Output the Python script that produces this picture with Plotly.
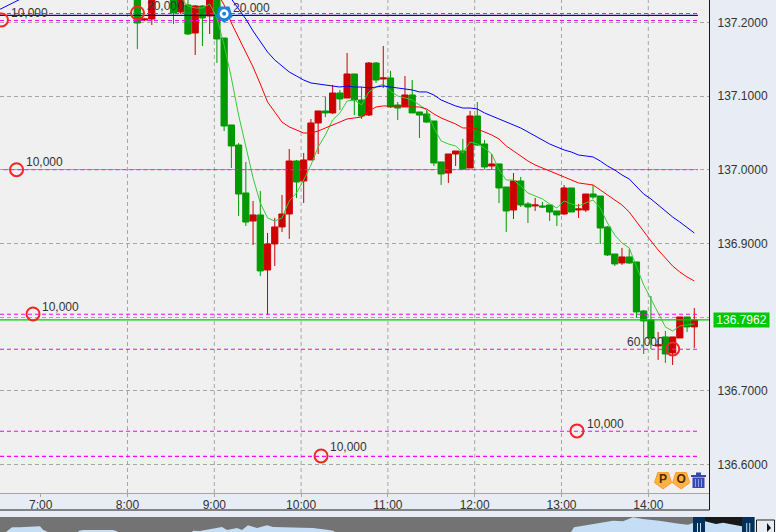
import plotly.graph_objects as go

W, H = 776, 532
PLOT_R, PLOT_B, FRAME_B = 709.5, 493, 510

# ---- time axis (minutes of the day) ----
hour_ticks = [420, 480, 540, 600, 660, 720, 780, 840]
hour_labels = ["7:00", "8:00", "9:00", "10:00", "11:00", "12:00", "13:00", "14:00"]
grid_hours = [480, 540, 600, 660, 720, 780, 840]
x_range = [391.87, 882.3]
y_range = [136.5612, 137.2303]
price_ticks = [136.6, 136.7, 136.8, 136.9, 137.0, 137.1, 137.2]
price_labels = ["136.6000", "136.7000", "", "136.9000", "137.0000", "137.1000", "137.2000"]

candle_start, candle_step = 486.8, 5

# ---- candles (5-minute) ----
opens = [137.2412, 137.2032, 137.2045, 137.2710, 137.2439, 137.2574, 137.2140, 137.2235, 137.1855, 137.2222,
         137.2086, 137.2371, 137.1787, 137.0607, 137.0335, 136.9684, 136.9304, 136.9386, 136.8639, 136.8992,
         136.9223, 136.9399, 137.0118, 136.9847, 137.0132, 137.0634, 137.0797, 137.0770, 137.1041, 137.0973,
         137.1299, 137.0946, 137.0742, 137.1448, 137.1231, 137.1245, 137.0878, 137.0851, 137.1014, 137.0783,
         137.0756, 137.0661, 137.0105, 136.9955, 137.0213, 137.0254, 137.0023, 137.0729, 137.0349, 137.0050,
         137.0078, 136.9765, 136.9453, 136.9847, 136.9535, 136.9508, 136.9508, 136.9521, 136.9440, 136.9399,
         136.9752, 136.9453, 136.9453, 136.9670, 136.9643, 136.9223, 136.8856, 136.8734, 136.8816, 136.8748,
         136.8083, 136.7961, 136.7608, 136.7730, 136.7513, 136.7716, 136.8001, 136.7866]
highs = [137.2412, 137.2059, 137.2384, 137.2778, 137.2778, 137.2574, 137.2507, 137.2303, 137.2235, 137.2235,
         137.2371, 137.2371, 137.1787, 137.0607, 137.0362, 137.0105, 136.9575, 136.9711, 136.9141, 136.9345,
         136.9657, 137.0281, 137.0132, 137.0227, 137.0688, 137.0797, 137.0987, 137.1150, 137.1082, 137.1584,
         137.1299, 137.1122, 137.1462, 137.1462, 137.1679, 137.1340, 137.0919, 137.1272, 137.1217, 137.0783,
         137.0810, 137.0661, 137.0105, 137.0213, 137.0254, 137.0417, 137.0797, 137.0919, 137.0403, 137.0213,
         137.0078, 136.9765, 136.9955, 136.9901, 136.9562, 136.9616, 136.9562, 136.9521, 136.9440, 136.9793,
         136.9752, 136.9535, 136.9670, 136.9793, 136.9643, 136.9236, 136.8856, 136.8938, 136.8924, 136.8748,
         136.8096, 136.8286, 136.7798, 136.7811, 136.7730, 136.8001, 136.8001, 136.8123]
lows = [137.1638, 137.2018, 137.1964, 137.2507, 137.2371, 137.1977, 137.2113, 137.1828, 137.1557, 137.1679,
        137.1842, 137.1448, 137.0525, 137.0023, 136.9372, 136.9236, 136.8978, 136.8558, 136.8029, 136.8693,
        136.9155, 136.9060, 136.9616, 136.9548, 137.0132, 137.0213, 137.0715, 137.0756, 137.0810, 137.0973,
        137.0742, 137.0688, 137.0729, 137.1177, 137.1109, 137.0837, 137.0675, 137.0851, 137.0770, 137.0430,
        137.0634, 137.0050, 136.9793, 136.9820, 137.0050, 136.9996, 137.0023, 137.0322, 137.0010, 136.9996,
        136.9548, 136.9155, 136.9331, 136.9494, 136.9277, 136.9440, 136.9480, 136.9304, 136.9236, 136.9386,
        136.9426, 136.9345, 136.9426, 136.9603, 136.8992, 136.8829, 136.8693, 136.8707, 136.8721, 136.7988,
        136.7499, 136.7567, 136.7418, 136.7377, 136.7350, 136.7716, 136.7798, 136.7581]
closes = [137.1991, 137.2045, 137.2384, 137.2574, 137.2710, 137.2127, 137.2507, 137.1842, 137.2222, 137.2059,
          137.2371, 137.1774, 137.0593, 137.0322, 136.9670, 136.9290, 136.9386, 136.8626, 136.8992, 136.9223,
          136.9399, 137.0118, 136.9833, 137.0132, 137.0634, 137.0797, 137.0770, 137.1041, 137.0960, 137.1299,
          137.0946, 137.0729, 137.1448, 137.1217, 137.1245, 137.0851, 137.0837, 137.1014, 137.0770, 137.0742,
          137.0647, 137.0091, 136.9942, 137.0213, 137.0254, 137.0010, 137.0729, 137.0335, 137.0037, 137.0078,
          136.9752, 136.9440, 136.9847, 136.9521, 136.9494, 136.9521, 136.9494, 136.9426, 136.9386, 136.9752,
          136.9426, 136.9467, 136.9670, 136.9630, 136.9209, 136.8843, 136.8721, 136.8816, 136.8734, 136.8069,
          136.7947, 136.7716, 136.7621, 136.7499, 136.7730, 136.8001, 136.7866, 136.7961]

# ---- moving averages (values per candle, starting at the given candle number) ----
ma_green_first = 6
ma_green = [137.2330, 137.2222, 137.2194, 137.2194, 137.2249, 137.2059, 137.1692, 137.1245, 137.0742, 137.0295,
            136.9888, 136.9548, 136.9345, 136.9304, 136.9345, 136.9575, 136.9684, 136.9860, 137.0064, 137.0308,
            137.0471, 137.0675, 137.0770, 137.0932, 137.0946, 137.0878, 137.1055, 137.1122, 137.1163, 137.1068,
            137.1000, 137.0973, 137.0946, 137.0878, 137.0810, 137.0566, 137.0390, 137.0349, 137.0322, 137.0227,
            137.0376, 137.0349, 137.0295, 137.0213, 136.9996, 136.9860, 136.9860, 136.9779, 136.9684, 136.9643,
            136.9603, 136.9535, 136.9480, 136.9575, 136.9535, 136.9508, 136.9548, 136.9589, 136.9480, 136.9277,
            136.9114, 136.9005, 136.8938, 136.8693, 136.8436, 136.8246, 136.8056, 136.7866, 136.7811, 136.7879,
            136.7893, 136.7906]
ma_red_first = 11
ma_red = [137.2412, 137.2235, 137.1991, 137.1787, 137.1584, 137.1394, 137.1163, 137.0919, 137.0783, 137.0647,
          137.0580, 137.0539, 137.0498, 137.0498, 137.0525, 137.0566, 137.0607, 137.0647, 137.0688, 137.0702,
          137.0715, 137.0797, 137.0851, 137.0865, 137.0865, 137.0865, 137.0865, 137.0851, 137.0851, 137.0824,
          137.0756, 137.0702, 137.0661, 137.0620, 137.0566, 137.0566, 137.0552, 137.0512, 137.0471, 137.0417,
          137.0322, 137.0254, 137.0186, 137.0118, 137.0064, 137.0023, 136.9983, 136.9942, 136.9901, 136.9860,
          136.9820, 136.9806, 136.9793, 136.9725, 136.9657, 136.9589, 136.9521, 136.9426, 136.9290, 136.9155,
          136.9033, 136.8911, 136.8802, 136.8693, 136.8612, 136.8544, 136.8490]
ma_blue_first = 12
ma_blue = [137.2412, 137.2317, 137.2181, 137.2045, 137.1882, 137.1733, 137.1597, 137.1489, 137.1407, 137.1326,
           137.1272, 137.1217, 137.1177, 137.1163, 137.1150, 137.1136, 137.1122, 137.1136, 137.1122, 137.1122,
           137.1109, 137.1122, 137.1136, 137.1122, 137.1109, 137.1095, 137.1082, 137.1055, 137.1055, 137.1014,
           137.0946, 137.0905, 137.0865, 137.0837, 137.0837, 137.0824, 137.0770, 137.0729, 137.0688, 137.0647,
           137.0607, 137.0566, 137.0512, 137.0458, 137.0403, 137.0349, 137.0308, 137.0268, 137.0240, 137.0199,
           137.0186, 137.0173, 137.0118, 137.0050, 136.9996, 136.9928, 136.9874, 136.9779, 136.9670, 136.9603,
           136.9521, 136.9440, 136.9358, 136.9290, 136.9209, 136.9141]
ma_blue_early_t = [391.9, 396.0, 400.2, 404.3, 409.0]
ma_blue_early = [137.2177, 137.2215, 137.2255, 137.2296, 137.2344]

# ---- horizontal levels ----
levels_magenta = [137.2120, 137.2025, 136.8038, 136.7563, 136.6450, 136.6110]
level_on_grid = 137.0000
level_on_grid_start = 394.3
level_blue = 137.2093
level_end = 874.3
last_price = 136.7962
last_price_text = "136.7962"

# ---- order markers and size labels ----
circle_t = [392.9, 403.3, 414.7, 486.9, 613.8, 790.7, 856.9]
circle_p = [137.2032, 137.0000, 136.8042, 137.2127, 136.6115, 136.6455, 136.7567]
label_t = [399.5, 493.5, 552.9, 409.8, 420.9, 620.0, 797.6, 825.3]
label_p = [137.2127, 137.2222, 137.2194, 137.0105, 136.8137, 136.6240, 136.6549, 136.7662]
label_text = ["10,000", "20,000", "20,000", "10,000", "10,000", "10,000", "10,000", "60,000"]
pin_t, pin_p = 546.8, 137.2115
badge_t = [850.2, 862.7]
badge_p = [136.5790, 136.5790]
badge_text = ["P", "O"]

# ---- navigator strip ----
nav_x = [6, 7, 12, 20, 33, 40, 43, 47, 48, 78, 79, 83, 100, 113, 117, 118, 192, 193, 200, 213, 222, 227, 237, 242,
         248, 257, 267, 273, 287, 300, 313, 327, 333, 335, 341, 343, 345, 361, 363, 365, 570, 571, 574, 586, 599,
         613, 623, 633, 643, 659, 679, 688, 693, 705, 716, 723, 742]
nav_h = [0, 0.7, 4.7, 4.7, 5.3, 5.7, 2.3, 0.7, 0, 0, 1.3, 2, 1.7, 2, 0.7, 0, 0, 1.3, 1, 3.3, 5, 2, 4, 2,
         6.7, 4, 6.7, 5, 4.7, 3.7, 4, 2.3, 1.3, 0, 0, 0.7, 0, 0, 0.7, 0, 0, 0, 4.7, 6.7, 8.7,
         11.3, 10.7, 14.7, 13, 11.3, 8.3, 7.3, 9, 10.7, 8, 9.3, 5.7]

FONT = "Liberation Sans"
TEXT = "#333333"
GRID = "#a6a6a6"
DASH = "4px,3px"


def px(x):
    return x / W


def py(y):
    return 1 - y / H


def rect(x0, y0, x1, y1, fill, layer="below", line=None):
    return dict(type="rect", xref="paper", yref="paper", x0=px(x0), x1=px(x1), y0=py(y1), y1=py(y0),
                fillcolor=fill, line=dict(width=1 if line else 0, color=line or fill), layer=layer)


def seg(x0, y0, x1, y1, color, width=1, layer="above"):
    return dict(type="line", xref="paper", yref="paper", x0=px(x0), x1=px(x1), y0=py(y1), y1=py(y0),
                line=dict(color=color, width=width), layer=layer)


times = [candle_start + candle_step * i for i in range(len(opens))]

fig = go.Figure()
fig.add_trace(go.Candlestick(
    x=times, open=opens, high=highs, low=lows, close=closes, xaxis="x", yaxis="y",
    increasing=dict(line=dict(color="#cc0000", width=1), fillcolor="#cc0000"),
    decreasing=dict(line=dict(color="#009900", width=1), fillcolor="#009900"),
    showlegend=False, hoverinfo="skip"))

for lv in levels_magenta:
    fig.add_trace(go.Scatter(x=[x_range[0], level_end], y=[lv, lv], mode="lines",
                             line=dict(color="#ff00ff", width=1.2, dash=DASH), hoverinfo="skip"))
fig.add_trace(go.Scatter(x=[level_on_grid_start, level_end], y=[level_on_grid, level_on_grid], mode="lines",
                         line=dict(color="#ff00ff", width=1, dash=DASH), hoverinfo="skip"))
fig.add_trace(go.Scatter(x=[x_range[0], level_end], y=[level_blue, level_blue], mode="lines",
                         line=dict(color="#0000cc", width=1.2), hoverinfo="skip"))
fig.add_trace(go.Scatter(x=[x_range[0], x_range[1]], y=[last_price, last_price], mode="lines",
                         line=dict(color="#00cc00", width=1.3), hoverinfo="skip"))

fig.add_trace(go.Scatter(x=times[ma_green_first:], y=ma_green, mode="lines",
                         line=dict(color="#33cc33", width=1), hoverinfo="skip"))
fig.add_trace(go.Scatter(x=times[ma_red_first:], y=ma_red, mode="lines",
                         line=dict(color="#ff0000", width=1), hoverinfo="skip"))
fig.add_trace(go.Scatter(x=times[ma_blue_first:], y=ma_blue, mode="lines",
                         line=dict(color="#0000ff", width=1), hoverinfo="skip"))
fig.add_trace(go.Scatter(x=ma_blue_early_t, y=ma_blue_early, mode="lines",
                         line=dict(color="#0000ff", width=1), hoverinfo="skip"))

fig.add_trace(go.Scatter(x=circle_t, y=circle_p, mode="markers", cliponaxis=True, hoverinfo="skip",
                         marker=dict(symbol="circle-open", size=13, color="#f52525", line=dict(width=2, color="#f52525"))))

# pin
fig.add_trace(go.Scatter(x=[pin_t], y=[pin_p], mode="markers", hoverinfo="skip", cliponaxis=False,
                         marker=dict(symbol="pentagon", angle=180, size=18, color="#1c84d8", line=dict(width=0))))
fig.add_trace(go.Scatter(x=[pin_t], y=[pin_p], mode="markers", hoverinfo="skip",
                         marker=dict(symbol="circle", size=9, color="#ffffff", line=dict(width=0))))
fig.add_trace(go.Scatter(x=[pin_t], y=[pin_p], mode="markers", hoverinfo="skip",
                         marker=dict(symbol="circle", size=4, color="#1c84d8", line=dict(width=0))))

# P and O badges
fig.add_trace(go.Scatter(x=badge_t, y=badge_p, mode="markers+text", text=badge_text,
                         textposition="middle center", hoverinfo="skip",
                         textfont=dict(family=FONT, size=12, color="#4d2a00", weight="bold"),
                         marker=dict(symbol="pentagon", angle=180, size=18, color="#ffb347",
                                     line=dict(width=1, color="#ff9a2e"))))

# navigator
fig.add_trace(go.Scatter(x=nav_x, y=nav_h, mode="lines", fill="tozeroy", fillcolor="#c6def5",
                         line=dict(width=0, color="#c6def5"), xaxis="x2", yaxis="y2", hoverinfo="skip"))

shapes = [
    rect(0, 0, PLOT_R, PLOT_B, "#f0f0f0"),
    rect(0, 517, 754.5, 532, "#737373"),
    rect(705, 517, 742, 532, "#181818"),
]
for h in grid_hours:
    shapes.append(dict(type="line", xref="x", yref="y domain", x0=h, x1=h, y0=0, y1=1,
                       line=dict(color=GRID, width=1, dash=DASH), layer="below"))
# frame
shapes += [
    seg(PLOT_R, 0, PLOT_R, FRAME_B, "#1a1a1a"),
    seg(0, FRAME_B, PLOT_R, FRAME_B, "#1a1a1a"),
]
# navigator handles and button
for a, b in [(693, 705), (742, 754.5)]:
    shapes.append(rect(a, 517, b, 532, "#04305c", layer="above"))
    mid = (a + b) / 2
    shapes.append(seg(mid - 1.5, 523, mid - 1.5, 532, "#c6def5"))
    shapes.append(seg(mid + 1.5, 523, mid + 1.5, 532, "#c6def5"))
shapes.append(rect(756.5, 520, 774.5, 533, "#e8ecf4", layer="above", line="#222222"))
shapes.append(dict(type="path", xref="paper", yref="paper", layer="above",
                   path=f"M {px(767)} {py(523)} L {px(771)} {py(528)} L {px(767)} {py(532)} Z",
                   fillcolor="#111111", line=dict(width=0)))
# trash can
shapes += [
    rect(691, 475, 706, 477, "#3748b0", layer="above"),
    rect(696, 472.5, 701, 475, "#3748b0", layer="above"),
    rect(692.5, 477.5, 704.5, 488, "#3748b0", layer="above"),
    seg(695.5, 479, 695.5, 487, "#8fa0e8"),
    seg(698.5, 479, 698.5, 487, "#8fa0e8"),
    seg(701.5, 479, 701.5, 487, "#8fa0e8"),
]

annotations = [
    dict(x=t, y=p, xref="x", yref="y", text=s, showarrow=False, xanchor="left", yanchor="middle",
         font=dict(family=FONT, size=12, color=TEXT), borderpad=0, borderwidth=0)
    for t, p, s in zip(label_t, label_p, label_text)
]
annotations.append(dict(x=px(713), y=last_price, xref="paper", yref="y", text=last_price_text, showarrow=False,
                        xanchor="left", yanchor="middle", bgcolor="#00c800", borderpad=0, width=55, height=14,
                        align="center", font=dict(family=FONT, size=12, color="#ffffff")))

fig.update_layout(
    width=W, height=H, autosize=False,
    margin=dict(l=0, r=0, t=0, b=0, pad=0),
    paper_bgcolor="#e8ecf4",
    plot_bgcolor="rgba(0,0,0,0)",
    showlegend=False,
    boxgap=0.14,
    boxgroupgap=0,
    hovermode=False,
    shapes=shapes,
    annotations=annotations,
    font=dict(family=FONT, size=12, color=TEXT),
    xaxis=dict(domain=[0, PLOT_R / W], range=x_range, anchor="y", rangeslider=dict(visible=False),
               tickmode="array", tickvals=hour_ticks, ticktext=hour_labels, showgrid=False, zeroline=False,
               showline=True, linecolor="#a6a6a6", linewidth=1, ticks="outside", ticklen=3, tickcolor="#a6a6a6",
               ticklabelstandoff=-2, tickfont=dict(family=FONT, size=12, color=TEXT)),
    yaxis=dict(domain=[(H - PLOT_B) / H, 1], range=y_range, anchor="x", side="right",
               tickmode="array", tickvals=price_ticks, ticktext=price_labels, showgrid=True,
               gridcolor=GRID, griddash=DASH, gridwidth=1, zeroline=False, showline=False, ticks="",
               ticklabelstandoff=7, tickfont=dict(family=FONT, size=12, color=TEXT)),
    xaxis2=dict(domain=[0, 1], range=[0, W], anchor="y2", visible=False),
    yaxis2=dict(domain=[0, 15 / H], range=[0, 15], anchor="x2", visible=False),
)

fig.write_html("out.html", config=dict(displayModeBar=False),
               post_script="document.body.style.margin='0';document.documentElement.style.overflow='hidden';")
